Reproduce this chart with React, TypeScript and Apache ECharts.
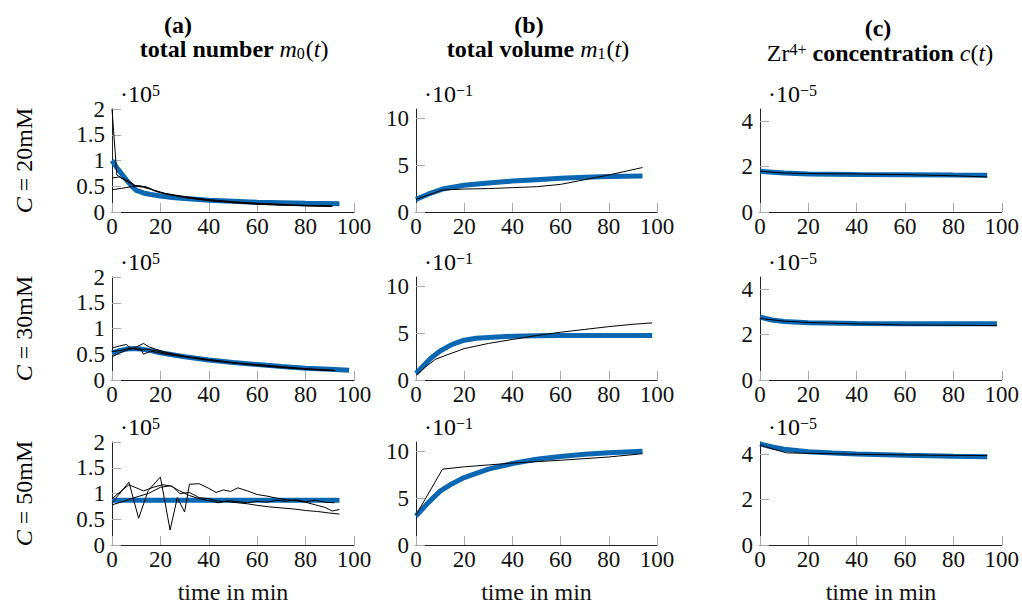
import React, { useEffect, useRef } from 'react';
import * as echarts from 'echarts';

// ---------- tick values ----------
const xTicks = [0, 20, 40, 60, 80, 100];
const yTicksNumber = [0, 0.5, 1, 1.5, 2];
const yTicksVolume = [0, 5, 10];
const yTicksConc = [0, 2, 4];

// ---------- labels ----------
const rowLabels = ['20mM', '30mM', '50mM'];
const colLetters = ['(a)', '(b)', '(c)'];
const exponents = ['5', '\u22121', '\u22125'];
const xAxisName = 'time in min';

// ---------- data: [time in min, value in axis units] ----------
// (a) total number m0(t), x 10^5
const m0_20_model = [[0, 1.0], [2, 0.86], [4, 0.74], [6, 0.62], [8, 0.51], [10, 0.42], [13, 0.37], [16, 0.34], [20, 0.31], [25, 0.28], [30, 0.26], [40, 0.23], [50, 0.21], [60, 0.19], [70, 0.18], [80, 0.17], [94, 0.16]];
const m0_20_exp1 = [[0, 2.0], [2, 0.72], [4, 0.66], [7, 0.6], [10, 0.5], [13, 0.48], [16, 0.44], [20, 0.38], [25, 0.33], [30, 0.28], [40, 0.22], [50, 0.18], [60, 0.15], [70, 0.13], [80, 0.12], [91, 0.11]];
const m0_20_exp2 = [[0, 0.66], [3, 0.68], [6, 0.6], [9, 0.52], [12, 0.5], [15, 0.47], [18, 0.4], [22, 0.35], [30, 0.29], [40, 0.23], [50, 0.19], [60, 0.16], [70, 0.14], [80, 0.12], [91, 0.11]];
const m0_20_exp3 = [[0, 0.43], [4, 0.46], [8, 0.49], [11, 0.51], [14, 0.49], [17, 0.43], [22, 0.36], [30, 0.3], [40, 0.24], [50, 0.2], [60, 0.17], [70, 0.15], [80, 0.13], [91, 0.12]];

const m0_30_model = [[0, 0.52], [3, 0.57], [6, 0.6], [9, 0.61], [12, 0.6], [16, 0.57], [20, 0.53], [25, 0.49], [30, 0.45], [40, 0.39], [50, 0.34], [60, 0.3], [70, 0.26], [80, 0.23], [90, 0.21], [98, 0.19]];
const m0_30_exp1 = [[0, 0.62], [3, 0.66], [6, 0.69], [8, 0.6], [10, 0.64], [13, 0.71], [15, 0.65], [18, 0.6], [22, 0.54], [30, 0.46], [40, 0.39], [50, 0.33], [60, 0.28], [70, 0.24], [80, 0.21], [92, 0.18]];
const m0_30_exp2 = [[0, 0.45], [3, 0.52], [6, 0.58], [9, 0.62], [12, 0.6], [13, 0.5], [16, 0.56], [20, 0.52], [25, 0.48], [30, 0.45], [40, 0.38], [50, 0.33], [60, 0.29], [70, 0.25], [80, 0.21], [92, 0.18]];
const m0_30_exp3 = [[0, 0.55], [4, 0.58], [8, 0.62], [11, 0.58], [14, 0.6], [18, 0.57], [22, 0.52], [30, 0.46], [40, 0.4], [50, 0.34], [60, 0.3], [70, 0.26], [80, 0.22], [92, 0.19]];

const m0_50_model = [[0, 0.87], [20, 0.87], [40, 0.87], [60, 0.87], [80, 0.87], [94, 0.87]];
const m0_50_exp1 = [[0, 0.82], [7, 1.22], [11, 0.52], [15, 1.06], [20, 1.32], [24, 0.29], [27, 0.92], [30, 0.64], [32, 1.18], [36, 1.19], [40, 1.1], [43, 1.02], [46, 1.07], [49, 1.04], [52, 1.11], [56, 1.05], [60, 0.98], [64, 0.95], [68, 0.91], [72, 0.88], [76, 0.86], [80, 0.83], [84, 0.78], [88, 0.73], [91, 0.66], [94, 0.69]];
const m0_50_exp2 = [[0, 0.9], [7, 1.17], [13, 1.05], [17, 1.12], [21, 1.17], [25, 1.14], [28, 1.0], [32, 1.02], [36, 0.92], [40, 0.9], [44, 0.85], [48, 0.84], [52, 0.82], [56, 0.8], [60, 0.77], [65, 0.74], [70, 0.72], [75, 0.7], [80, 0.67], [85, 0.65], [90, 0.62], [94, 0.6]];
const m0_50_exp3 = [[0, 0.78], [5, 0.85], [10, 0.93], [15, 1.0], [20, 1.12], [24, 1.15], [28, 1.05], [32, 0.96], [36, 0.9], [40, 0.86], [44, 0.82], [48, 0.86], [52, 0.84], [56, 0.82], [60, 0.85], [64, 0.83], [68, 0.87], [72, 0.85], [76, 0.88], [80, 0.84], [84, 0.87], [88, 0.83], [92, 0.82]];

// (b) total volume m1(t), x 10^-1
const m1_20_model = [[0, 1.35], [5, 1.9], [11, 2.45], [20, 2.85], [30, 3.1], [40, 3.3], [50, 3.45], [60, 3.6], [70, 3.7], [80, 3.8], [94, 3.85]];
const m1_20_exp = [[0, 1.35], [11, 2.35], [20, 2.45], [30, 2.5], [40, 2.6], [50, 2.7], [60, 2.95], [70, 3.45], [80, 3.95], [94, 4.75]];

const m1_30_model = [[0, 0.7], [3, 1.5], [6, 2.3], [10, 3.1], [15, 3.8], [20, 4.25], [25, 4.45], [30, 4.55], [40, 4.68], [50, 4.72], [60, 4.75], [80, 4.75], [98, 4.75]];
const m1_30_exp = [[0, 0.5], [4, 1.4], [8, 2.2], [12, 2.6], [20, 3.35], [30, 3.9], [40, 4.33], [50, 4.75], [60, 5.1], [70, 5.4], [80, 5.7], [90, 5.95], [98, 6.1]];

const m1_50_model = [[0, 3.1], [5, 4.5], [10, 5.75], [15, 6.55], [20, 7.2], [30, 8.1], [40, 8.7], [50, 9.15], [60, 9.45], [70, 9.7], [80, 9.85], [94, 10.0]];
const m1_50_exp = [[0, 3.2], [11, 8.1], [20, 8.35], [30, 8.55], [40, 8.75], [60, 9.05], [80, 9.4], [94, 9.75]];

// (c) Zr4+ concentration c(t), x 10^-5
const c_20_model = [[0, 1.8], [10, 1.72], [20, 1.68], [40, 1.66], [60, 1.65], [80, 1.63], [94, 1.62]];
const c_20_exp = [[0, 1.8], [10, 1.72], [20, 1.7], [40, 1.68], [60, 1.65], [80, 1.6], [94, 1.55]];

const c_30_model = [[0, 2.78], [5, 2.65], [10, 2.58], [20, 2.53], [40, 2.5], [60, 2.49], [98, 2.48]];
const c_30_exp = [[0, 2.72], [10, 2.6], [20, 2.54], [40, 2.48], [60, 2.43], [80, 2.42], [98, 2.4]];

const c_50_model = [[0, 4.46], [5, 4.33], [10, 4.23], [20, 4.12], [30, 4.06], [40, 4.02], [60, 3.96], [80, 3.92], [94, 3.9]];
const c_50_exp = [[0, 4.42], [5, 4.25], [11, 4.07], [20, 4.05], [40, 4.01], [60, 3.98], [80, 3.96], [94, 3.95]];

// ---------- layout / style ----------
const FONT = '"Times New Roman", "Liberation Serif", "DejaVu Serif", serif';
const BLUE = '#0a67b2';
const colLeft = [112, 416, 760];
const colWidth = [242, 241, 242];
const rowTop = [109, 277, 442];
const rowHeight = 103;

const colYMax = [2, 11, 4.55];
const colYTicks = [yTicksNumber, yTicksVolume, yTicksConc];

const panels = [
  [
    { model: m0_20_model, exps: [m0_20_exp1, m0_20_exp2, m0_20_exp3] },
    { model: m1_20_model, exps: [m1_20_exp] },
    { model: c_20_model, exps: [c_20_exp] },
  ],
  [
    { model: m0_30_model, exps: [m0_30_exp1, m0_30_exp2, m0_30_exp3] },
    { model: m1_30_model, exps: [m1_30_exp] },
    { model: c_30_model, exps: [c_30_exp] },
  ],
  [
    { model: m0_50_model, exps: [m0_50_exp1, m0_50_exp2, m0_50_exp3] },
    { model: m1_50_model, exps: [m1_50_exp] },
    { model: c_50_model, exps: [c_50_exp] },
  ],
];

const richBase = {
  r: { fontFamily: FONT, fontSize: 24, color: '#111' },
  b: { fontFamily: FONT, fontSize: 24, fontWeight: 'bold', color: '#111' },
  i: { fontFamily: FONT, fontSize: 24, fontStyle: 'italic', color: '#111' },
  sub: { fontFamily: FONT, fontSize: 16, color: '#111', verticalAlign: 'bottom', padding: [0, 1, 0, 0] },
  sup: { fontFamily: FONT, fontSize: 16, color: '#111', verticalAlign: 'top' },
};

function buildOption() {
  const grid: any[] = [];
  const xAxis: any[] = [];
  const yAxis: any[] = [];
  const series: any[] = [];
  const graphic: any[] = [];

  let idx = 0;
  for (let r = 0; r < 3; r++) {
    for (let c = 0; c < 3; c++) {
      grid.push({ left: colLeft[c], top: rowTop[r], width: colWidth[c], height: rowHeight, containLabel: false });
      xAxis.push({
        gridIndex: idx, type: 'value', min: 0, max: 100,
        axisLine: { show: true, lineStyle: { color: '#222', width: 1 } },
        axisTick: { show: true, inside: true, length: 9, customValues: xTicks, lineStyle: { color: '#aaa', width: 1 } },
        axisLabel: { customValues: xTicks, fontFamily: FONT, fontSize: 23, color: '#111', margin: 3 },
        splitLine: { show: false },
      });
      yAxis.push({
        gridIndex: idx, type: 'value', min: 0, max: colYMax[c],
        axisLine: { show: true, lineStyle: { color: '#222', width: 1 } },
        axisTick: { show: true, inside: true, length: 9, customValues: colYTicks[c], lineStyle: { color: '#aaa', width: 1 } },
        axisLabel: { customValues: colYTicks[c], fontFamily: FONT, fontSize: 23, color: '#111', margin: 7 },
        splitLine: { show: false },
      });
      const p = panels[r][c];
      series.push({
        type: 'line', xAxisIndex: idx, yAxisIndex: idx, data: p.model, showSymbol: false,
        lineStyle: { color: BLUE, width: 5 }, z: 2, silent: true,
      });
      p.exps.forEach((e) => {
        series.push({
          type: 'line', xAxisIndex: idx, yAxisIndex: idx, data: e, showSymbol: false,
          lineStyle: { color: '#000', width: 1 }, z: 3, silent: true,
        });
      });
      // exponent label
      graphic.push({
        type: 'text', left: colLeft[c] + 8, top: rowTop[r] - 27,
        style: { text: `{r|\u00b710}{sup|${exponents[c]}}`, rich: richBase },
      });
      idx++;
    }
  }

  // column headers
  const letterX = [178, 529, 878];
  const letterY = [25, 25, 28];
  const titleX = [234, 538, 880];
  const titleY = [49, 49, 53];
  const titles = [
    '{b|total number }{i|m}{sub|0}{r|(}{i|t}{r|)}',
    '{b|total volume }{i|m}{sub|1}{r|(}{i|t}{r|)}',
    '{r|Zr}{sup|4+}{b| concentration }{i|c}{r|(}{i|t}{r|)}',
  ];
  for (let c = 0; c < 3; c++) {
    graphic.push({
      type: 'text', x: letterX[c], y: letterY[c],
      style: { text: `{b|${colLetters[c]}}`, rich: richBase, align: 'center', verticalAlign: 'middle' },
    });
    graphic.push({
      type: 'text', x: titleX[c], y: titleY[c],
      style: { text: titles[c], rich: richBase, align: 'center', verticalAlign: 'middle' },
    });
    graphic.push({
      type: 'text', x: colLeft[c] + colWidth[c] / 2, y: 592,
      style: { text: xAxisName, fontFamily: FONT, fontSize: 24, fill: '#111', align: 'center', verticalAlign: 'middle' },
    });
  }
  // row labels
  for (let r = 0; r < 3; r++) {
    graphic.push({
      type: 'text', x: 24, y: rowTop[r] + rowHeight / 2, rotation: Math.PI / 2,
      style: { text: `{i|C}{r| = ${rowLabels[r]}}`, rich: richBase, align: 'center', verticalAlign: 'middle' },
    });
  }

  return {
    animation: false,
    backgroundColor: '#fff',
    textStyle: { fontFamily: FONT },
    grid, xAxis, yAxis, series, graphic,
  };
}

export default function App() {
  const ref = useRef<HTMLDivElement>(null);
  useEffect(() => {
    if (!ref.current) return;
    const chart = echarts.init(ref.current, undefined, { renderer: 'svg' });
    chart.setOption(buildOption() as any);
    return () => chart.dispose();
  }, []);
  return (
    <div
      ref={ref}
      style={{ position: 'fixed', left: 0, top: 0, width: 1022, height: 606, background: '#fff', fontFamily: 'serif' }}
    />
  );
}
